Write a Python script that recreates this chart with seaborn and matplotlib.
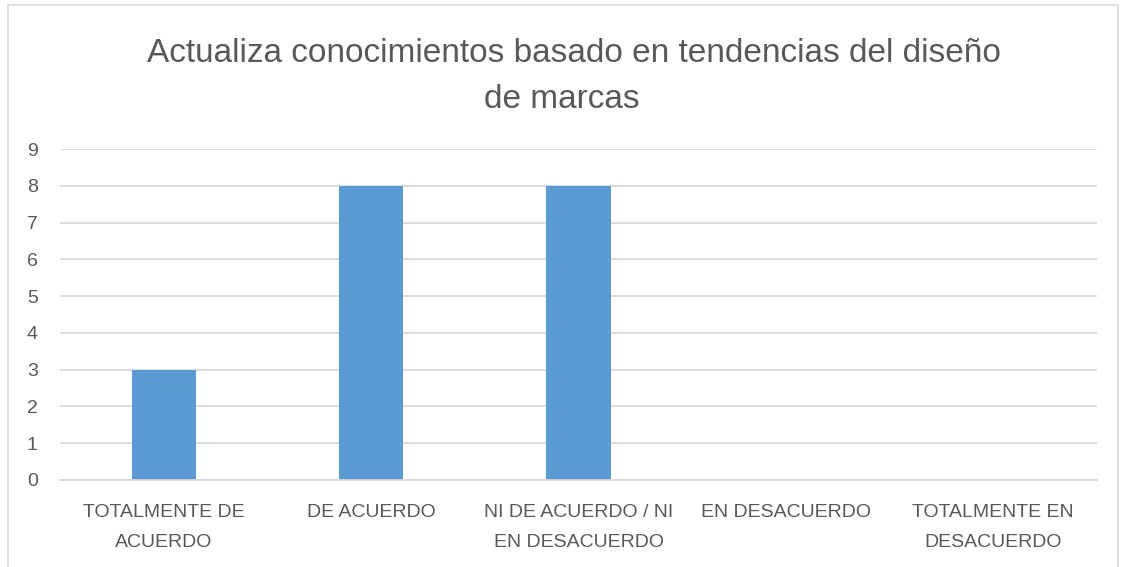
import matplotlib
matplotlib.use("Agg")
import matplotlib.pyplot as plt
import seaborn as sns
import pandas as pd
from matplotlib.patches import Rectangle

categorias = ["TOTALMENTE DE\nACUERDO", "DE ACUERDO", "NI DE ACUERDO / NI\nEN DESACUERDO",
              "EN DESACUERDO", "TOTALMENTE EN\nDESACUERDO"]
valores = [3, 8, 8, 0, 0]
titulo_lineas = ["Actualiza conocimientos basado en tendencias del diseño", "de marcas"]
yticks = list(range(0, 10))

sns.set_theme(style="white")
plt.rcParams['font.family'] = ['Liberation Sans', 'DejaVu Sans']

TEXT = "#595959"
GRID = "#D9D9D9"
BAR = "#5B9BD5"

df = pd.DataFrame({"cat": categorias, "val": valores})

fig = plt.figure(figsize=(11.22, 5.67), dpi=100)
ax = fig.add_axes([60/1122, 1-480/567, (1097-60)/1122, (480-149)/567])

sns.barplot(data=df, x="cat", y="val", ax=ax, color=BAR, width=0.31, saturation=1,
            edgecolor=BAR, linewidth=0)

ax.set_ylim(0, 9)
ax.set_xlim(-0.5, len(categorias)-0.5)
ax.set_yticks(yticks)
ax.yaxis.grid(True, color=GRID, linewidth=1.3)
ax.set_axisbelow(True)
for s in ["top", "right", "left"]:
    ax.spines[s].set_visible(False)
ax.spines["bottom"].set_color(GRID)
ax.spines["bottom"].set_linewidth(1.3)
ax.set_xlabel("")
ax.set_ylabel("")
ax.tick_params(axis="both", length=0, labelsize=14, labelcolor=TEXT)
ax.tick_params(axis="x", pad=17.5)
ax.tick_params(axis="y", pad=16)
for lab in ax.get_xticklabels():
    lab.set_linespacing(1.95)

fig.text(573.5/1122, 1-53/567, titulo_lineas[0], ha="center", va="center", fontsize=24,
         color=TEXT)
fig.text(562/1122, 1-99/567, titulo_lineas[1], ha="center", va="center", fontsize=24,
         color=TEXT)

fig.patches.append(Rectangle((8/1122, -0.05), (1118-8)/1122, 1.05 - 5/567,
                             transform=fig.transFigure, fill=False,
                             edgecolor="#D9D9D9", linewidth=1.2))

fig.savefig("out.png", dpi=100, facecolor="white")
